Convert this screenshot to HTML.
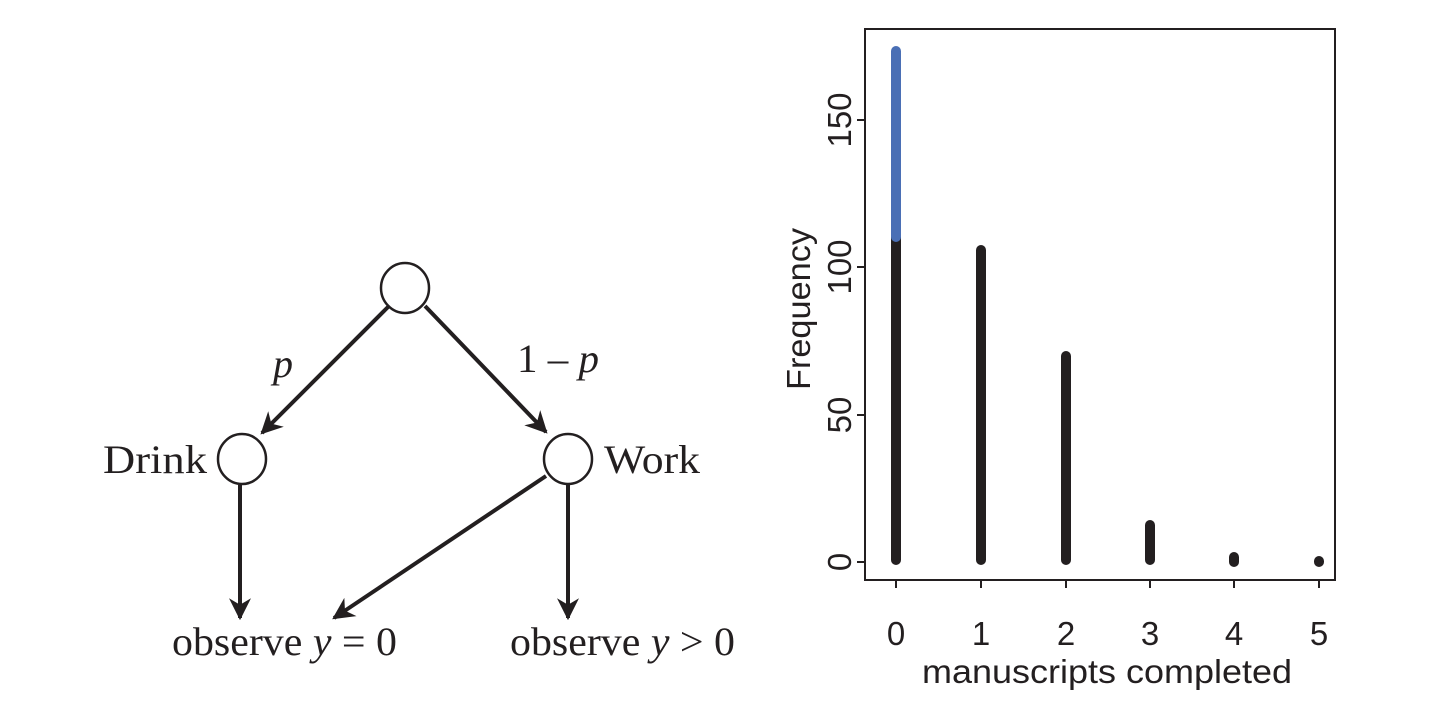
<!DOCTYPE html>
<html><head><meta charset="utf-8"><style>
html,body{margin:0;padding:0;background:#fff;}
svg{display:block}
</style></head><body>
<svg width="1437" height="721" viewBox="0 0 1437 721" xmlns="http://www.w3.org/2000/svg">
<defs>
<marker id="ah" viewBox="0 0 10 10" refX="9" refY="5" markerWidth="5.5" markerHeight="5.5" orient="auto" markerUnits="strokeWidth">
<path d="M0,0 L10,5 L0,10 L3,5 z" fill="#231f20"/>
</marker>
</defs>
<g stroke="#231f20" stroke-width="4" fill="none">
<line x1="389" y1="306" x2="262" y2="433" marker-end="url(#ah)"/>
<line x1="425" y1="306" x2="546" y2="432" marker-end="url(#ah)"/>
<line x1="240" y1="485" x2="240" y2="618" marker-end="url(#ah)"/>
<line x1="546" y1="476" x2="334" y2="618" marker-end="url(#ah)"/>
<line x1="568" y1="485" x2="568" y2="618" marker-end="url(#ah)"/>
</g>
<g stroke="#231f20" stroke-width="2.5" fill="#fff">
<ellipse cx="405" cy="288" rx="24" ry="25"/>
<ellipse cx="242" cy="459" rx="24" ry="25"/>
<ellipse cx="568" cy="459" rx="24" ry="25"/>
</g>
<g font-family="Liberation Serif, serif" font-size="40" fill="#231f20">
<text x="103" y="473" textLength="104" lengthAdjust="spacingAndGlyphs">Drink</text>
<text x="604" y="473" textLength="96" lengthAdjust="spacingAndGlyphs">Work</text>
<text x="283" y="377" text-anchor="middle" font-style="italic">p</text>
<text x="517" y="372" textLength="82" lengthAdjust="spacingAndGlyphs">1 – <tspan font-style="italic">p</tspan></text>
<text x="172" y="655" textLength="225" lengthAdjust="spacingAndGlyphs">observe <tspan font-style="italic">y</tspan> = 0</text>
<text x="510" y="655" textLength="225" lengthAdjust="spacingAndGlyphs">observe <tspan font-style="italic">y</tspan> &gt; 0</text>
</g>
<!-- chart -->
<rect x="865" y="29" width="470" height="551" fill="none" stroke="#231f20" stroke-width="2"/>
<g stroke="#231f20" stroke-width="2">
<line x1="857" y1="562" x2="865" y2="562"/>
<line x1="857" y1="415" x2="865" y2="415"/>
<line x1="857" y1="267" x2="865" y2="267"/>
<line x1="857" y1="120" x2="865" y2="120"/>
<line x1="896" y1="580" x2="896" y2="588"/>
<line x1="981" y1="580" x2="981" y2="588"/>
<line x1="1066" y1="580" x2="1066" y2="588"/>
<line x1="1150" y1="580" x2="1150" y2="588"/>
<line x1="1234" y1="580" x2="1234" y2="588"/>
<line x1="1319" y1="580" x2="1319" y2="588"/>
</g>
<g stroke-width="10" stroke-linecap="round">
<line x1="896" y1="560" x2="896" y2="237" stroke="#231f20"/>
<line x1="896" y1="237" x2="896" y2="51" stroke="#4a6fb5"/>
<line x1="981" y1="560" x2="981" y2="250" stroke="#231f20"/>
<line x1="1066" y1="560" x2="1066" y2="356" stroke="#231f20"/>
<line x1="1150" y1="560" x2="1150" y2="525" stroke="#231f20"/>
<line x1="1234" y1="562" x2="1234" y2="557" stroke="#231f20"/>
<line x1="1319" y1="562" x2="1319" y2="561" stroke="#231f20"/>
</g>
<g font-family="Liberation Sans, sans-serif" font-size="33" fill="#231f20" text-anchor="middle">
<text transform="translate(851,562) rotate(-90)">0</text>
<text transform="translate(851,415) rotate(-90)">50</text>
<text transform="translate(851,267) rotate(-90)">100</text>
<text transform="translate(851,120) rotate(-90)">150</text>
<text transform="translate(810,309) rotate(-90)" textLength="162" lengthAdjust="spacingAndGlyphs">Frequency</text>
<text x="896" y="645">0</text>
<text x="981" y="645">1</text>
<text x="1066" y="645">2</text>
<text x="1150" y="645">3</text>
<text x="1234" y="645">4</text>
<text x="1319" y="645">5</text>
<text x="1107" y="683" textLength="370" lengthAdjust="spacingAndGlyphs">manuscripts completed</text>
</g>
</svg>
</body></html>
